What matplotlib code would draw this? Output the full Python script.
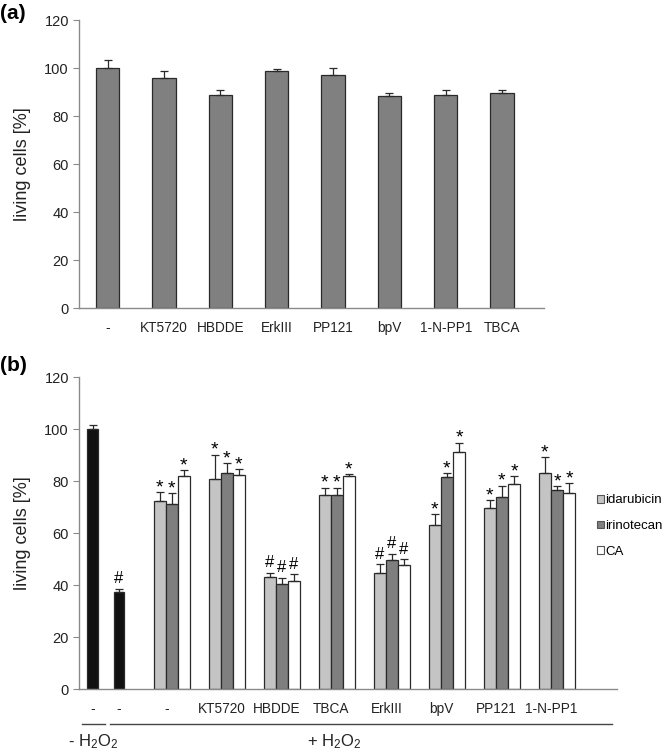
import numpy as np
import matplotlib
matplotlib.use('Agg')
import matplotlib.pyplot as plt
from matplotlib.patches import Patch
import matplotlib.transforms as mtransforms

plt.rcParams['font.family'] = ['Liberation Sans', 'DejaVu Sans']
plt.rcParams['mathtext.fontset'] = 'custom'
plt.rcParams['mathtext.rm'] = 'Liberation Sans'
plt.rcParams['mathtext.it'] = 'Liberation Sans:italic'

# panel (a) data
aLabels = ['-', 'KT5720', 'HBDDE', 'ErkIII', 'PP121', 'bpV', '1-N-PP1', 'TBCA']
aValues = [100.0, 96.0, 88.9, 99.0, 97.2, 88.6, 88.8, 89.7]
aErrors = [3.5, 2.8, 2.2, 0.8, 2.8, 1.0, 2.1, 1.4]

# panel (b) data
ctrlLabels = ['-', '-']
ctrlValues = [100.0, 37.3]
ctrlErrors = [1.5, 1.3]
ctrlMarks = ['', '#']

bLabels = ['-', 'KT5720', 'HBDDE', 'TBCA', 'ErkIII', 'bpV', 'PP121', '1-N-PP1']
seriesNames = ['idarubicin', 'irinotecan', 'CA']
idaValues = [72.5, 80.7, 42.9, 74.8, 44.8, 63.1, 69.7, 83.1]
idaErrors = [3.1, 9.4, 1.7, 2.6, 3.1, 4.1, 2.9, 6.1]
iriValues = [71.2, 82.9, 40.5, 74.7, 49.5, 81.6, 73.8, 76.6]
iriErrors = [4.1, 4.0, 2.1, 2.7, 2.6, 1.4, 4.4, 1.5]
caValues = [82.1, 82.4, 41.4, 82.1, 47.7, 91.0, 79.0, 75.3]
caErrors = [2.1, 2.1, 2.7, 0.5, 2.2, 3.8, 3.0, 3.9]
groupMarks = ['*', '*', '#', '*', '#', '*', '*', '*']

spineColor = '#8a8a8a'
edgeColor = '#2a2a2a'


def styleAxis(ax):
    for s in ['top', 'right']:
        ax.spines[s].set_visible(False)
    for s in ['left', 'bottom']:
        ax.spines[s].set_color(spineColor)
        ax.spines[s].set_linewidth(1.0)
    ax.set_ylim(0, 120)
    ax.set_yticks(np.arange(0, 121, 20))
    ax.tick_params(axis='y', direction='out', length=4, color=spineColor,
                   labelsize=10.5, labelcolor='#222222', pad=3)
    ax.tick_params(axis='x', length=0, labelsize=9.8, labelcolor='#222222', pad=9)


def drawBars(ax, x, values, errors, color, width):
    ax.bar(x, values, width, color=color, edgecolor=edgeColor, linewidth=0.9,
           yerr=[np.zeros(len(values)), errors], capsize=3,
           error_kw=dict(elinewidth=0.9, ecolor=edgeColor, capthick=0.9))


fig = plt.figure(figsize=(6.67, 7.5), dpi=100)

# ---- panel (a)
axA = fig.add_axes([0.118, 0.589, 0.698, 0.384])
styleAxis(axA)
xa = np.arange(len(aLabels))
drawBars(axA, xa, aValues, aErrors, '#808080', 0.41)
axA.set_xlim(-0.515, 7.75)
axA.set_xticks(xa)
axA.set_xticklabels(aLabels)
axA.set_ylabel('living cells [%]', fontsize=13, color='#222222')
axA.yaxis.set_label_coords(-0.102, 0.5)
fig.text(0.0, 0.995, '(a)', fontsize=15, fontweight='bold', va='top', ha='left')

# ---- panel (b)
axB = fig.add_axes([0.118, 0.0813, 0.807, 0.416])
styleAxis(axB)
bw = 0.22
groupPos = np.arange(2, 2 + len(bLabels))
ctrlPos = np.array([0.56, 1.04])

drawBars(axB, ctrlPos, ctrlValues, ctrlErrors, '#111111', 0.19)
drawBars(axB, groupPos - bw, idaValues, idaErrors, '#c4c4c4', bw)
drawBars(axB, groupPos, iriValues, iriErrors, '#7f7f7f', bw)
drawBars(axB, groupPos + bw, caValues, caErrors, '#ffffff', bw)

for x, v, e, m in zip(ctrlPos, ctrlValues, ctrlErrors, ctrlMarks):
    if m:
        axB.annotate(m, (x, v + e), xytext=(0, 2), textcoords='offset points',
                     ha='center', va='bottom', fontsize=12)
for off, vals, errs in [(-bw, idaValues, idaErrors), (0, iriValues, iriErrors),
                        (bw, caValues, caErrors)]:
    for x, v, e, m in zip(groupPos + off, vals, errs, groupMarks):
        fs = 14 if m == '*' else 12
        dy = -3 if m == '*' else 2
        axB.annotate(m, (x, v + e), xytext=(0, dy), textcoords='offset points',
                     ha='center', va='bottom', fontsize=fs)

axB.set_xlim(0.309, 10.09)
axB.set_xticks(list(ctrlPos) + list(groupPos - 0.1))
axB.set_xticklabels(ctrlLabels + bLabels)
axB.set_ylabel('living cells [%]', fontsize=13, color='#222222')
axB.yaxis.set_label_coords(-0.089, 0.5)

trans = mtransforms.blended_transform_factory(axB.transData, axB.transAxes)
axB.plot([0.364, 0.782], [-0.112, -0.112], color='#444444', lw=1.0,
         transform=trans, clip_on=False)
axB.plot([0.873, 10.0], [-0.112, -0.112], color='#444444', lw=1.0,
         transform=trans, clip_on=False)
axB.text(0.58, -0.168, r'- H$_2$O$_2$', transform=trans, ha='center', va='center',
         fontsize=12, color='#222222')
axB.text(4.95, -0.168, r'+ H$_2$O$_2$', transform=trans, ha='center', va='center',
         fontsize=12, color='#222222')

handles = [Patch(facecolor=c, edgecolor='#555555', linewidth=0.8)
           for c in ['#c4c4c4', '#7f7f7f', '#ffffff']]
axB.legend(handles, seriesNames, loc='center left', bbox_to_anchor=(0.962, 0.522),
           frameon=False, fontsize=9.5, handlelength=0.55, handleheight=0.55,
           handletextpad=0.12, labelspacing=1.05, borderaxespad=0, borderpad=0)

fig.text(0.0, 0.525, '(b)', fontsize=15, fontweight='bold', va='top', ha='left')

fig.savefig('out.png', dpi=100)
